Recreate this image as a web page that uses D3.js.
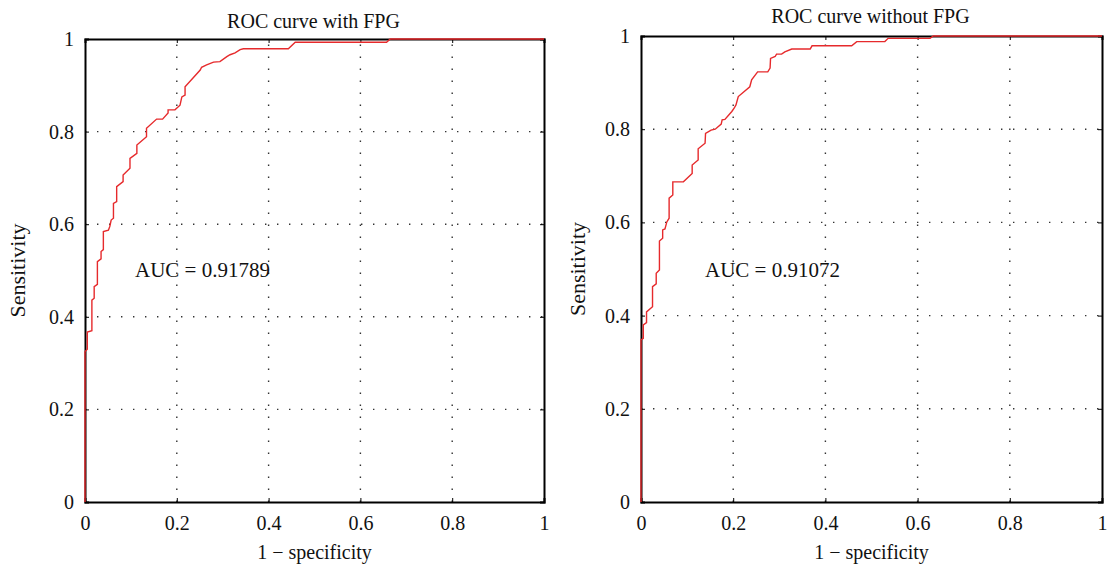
<!DOCTYPE html>
<html>
<head>
<meta charset="utf-8">
<title>ROC curves with and without FPG</title>
<script src="https://d3js.org/d3.v7.min.js"></script>
<style>
  body { margin: 0; background: #fff; }
  text { font-family: "Liberation Serif", "DejaVu Serif", serif; fill: #111; }
</style>
</head>
<body>
<div id="chart"></div>
<script>
// ROC points (1 - specificity, sensitivity)
var fprWith = [0, 0, 0.005, 0.005, 0.015, 0.015, 0.02, 0.02, 0.027, 0.027, 0.035, 0.035, 0.04, 0.04,
  0.051, 0.054, 0.057, 0.062, 0.062, 0.069, 0.069, 0.083, 0.083, 0.098, 0.098, 0.113, 0.113,
  0.134, 0.134, 0.156, 0.169, 0.181, 0.181, 0.196, 0.207, 0.211, 0.218, 0.218, 0.251, 0.254,
  0.265, 0.280, 0.294, 0.309, 0.316, 0.327, 0.338, 0.345, 0.443, 0.458, 0.657, 0.665, 1];
var tprWith = [0, 0.325, 0.33, 0.367, 0.37, 0.436, 0.44, 0.465, 0.47, 0.519, 0.525, 0.541, 0.545, 0.584,
  0.587, 0.595, 0.609, 0.613, 0.645, 0.649, 0.681, 0.692, 0.706, 0.721, 0.742, 0.753, 0.771,
  0.789, 0.807, 0.827, 0.827, 0.840, 0.847, 0.847, 0.857, 0.875, 0.879, 0.897, 0.933, 0.939,
  0.944, 0.950, 0.951, 0.962, 0.966, 0.970, 0.977, 0.979, 0.979, 0.993, 0.993, 1, 1];

var fprWithout = [0, 0, 0.005, 0.005, 0.012, 0.012, 0.025, 0.025, 0.033, 0.033, 0.040, 0.040, 0.047, 0.047,
  0.052, 0.056, 0.061, 0.061, 0.069, 0.069, 0.092, 0.111, 0.111, 0.124, 0.124, 0.139, 0.140,
  0.152, 0.161, 0.174, 0.176, 0.182, 0.197, 0.202, 0.206, 0.211, 0.236, 0.240, 0.253, 0.275,
  0.280, 0.281, 0.291, 0.294, 0.305, 0.312, 0.327, 0.367, 0.371, 0.457, 0.468, 0.529, 0.536,
  0.627, 0.634, 1];
var tprWithout = [0, 0.348, 0.351, 0.380, 0.385, 0.408, 0.419, 0.462, 0.468, 0.491, 0.498, 0.560, 0.566, 0.584,
  0.586, 0.601, 0.609, 0.652, 0.659, 0.687, 0.687, 0.705, 0.723, 0.734, 0.758, 0.770, 0.791,
  0.798, 0.800, 0.811, 0.820, 0.821, 0.838, 0.845, 0.852, 0.870, 0.891, 0.906, 0.923, 0.923,
  0.931, 0.952, 0.956, 0.961, 0.961, 0.966, 0.972, 0.972, 0.979, 0.979, 0.988, 0.988, 0.995,
  0.995, 1, 1];

var ticks = [0, 0.2, 0.4, 0.6, 0.8, 1];
var gridTicks = [0.2, 0.4, 0.6, 0.8];

var panels = [
  { title: "ROC curve with FPG", auc: "AUC = 0.91789", fpr: fprWith, tpr: tprWith,
    left: 85, right: 544, top: 39, bottom: 502, titleY: 28, ylabX: 25, aucX: 135 },
  { title: "ROC curve without FPG", auc: "AUC = 0.91072", fpr: fprWithout, tpr: tprWithout,
    left: 641, right: 1102, top: 36, bottom: 502, titleY: 23, ylabX: 585, aucX: 705 }
];

var svg = d3.select("#chart").append("svg")
  .attr("width", 1110)
  .attr("height", 564);

panels.forEach(function(p) {
  var x = d3.scaleLinear().domain([0, 1]).range([p.left, p.right]);
  var y = d3.scaleLinear().domain([0, 1]).range([p.bottom, p.top]);
  var g = svg.append("g");

  // dotted grid
  g.selectAll(".gx").data(gridTicks).enter().append("line")
    .attr("x1", function(d) { return x(d); }).attr("x2", function(d) { return x(d); })
    .attr("y1", p.bottom).attr("y2", p.top)
    .attr("stroke", "#333").attr("stroke-width", 1.4)
    .attr("stroke-dasharray", "1.4,10.6");
  g.selectAll(".gy").data(gridTicks).enter().append("line")
    .attr("y1", function(d) { return y(d); }).attr("y2", function(d) { return y(d); })
    .attr("x1", p.left).attr("x2", p.right)
    .attr("stroke", "#333").attr("stroke-width", 1.4)
    .attr("stroke-dasharray", "1.4,10.6");

  // axes with inward ticks on all four sides
  var ax = [
    g.append("g").attr("transform", "translate(0," + p.bottom + ")")
      .call(d3.axisBottom(x).tickValues(ticks).tickSize(-4).tickPadding(14).tickFormat(d3.format("~g"))),
    g.append("g").attr("transform", "translate(0," + p.top + ")")
      .call(d3.axisTop(x).tickValues(ticks).tickSize(-4).tickFormat("")),
    g.append("g").attr("transform", "translate(" + p.left + ",0)")
      .call(d3.axisLeft(y).tickValues(ticks).tickSize(-4).tickPadding(11).tickFormat(d3.format("~g"))),
    g.append("g").attr("transform", "translate(" + p.right + ",0)")
      .call(d3.axisRight(y).tickValues(ticks).tickSize(-4).tickFormat(""))
  ];
  ax.forEach(function(a) {
    a.attr("font-size", 20).attr("font-family", "'Liberation Serif', 'DejaVu Serif', serif");
  });

  g.selectAll(".domain").attr("stroke", "#000").attr("stroke-width", 2);
  g.selectAll(".tick line").attr("stroke", "#000").attr("stroke-width", 1);
  g.selectAll(".tick text").attr("fill", "#111");

  // ROC curve
  var pts = p.fpr.map(function(f, i) { return [f, p.tpr[i]]; });
  g.append("path")
    .datum(pts)
    .attr("fill", "none")
    .attr("stroke", "#e62a2c")
    .attr("stroke-width", 1.4)
    .attr("d", d3.line().x(function(d) { return x(d[0]); }).y(function(d) { return y(d[1]); }));

  // texts
  g.append("text")
    .attr("x", (p.left + p.right) / 2 - 1).attr("y", p.titleY)
    .attr("text-anchor", "middle").style("font-size", "20px")
    .text(p.title);
  g.append("text")
    .attr("x", (p.left + p.right) / 2).attr("y", 559)
    .attr("text-anchor", "middle").style("font-size", "20px")
    .text("1 \u2212 specificity");
  g.append("text")
    .attr("transform", "translate(" + p.ylabX + "," + ((p.top + p.bottom) / 2) + ") rotate(-90)")
    .attr("text-anchor", "middle").style("font-size", "22px")
    .text("Sensitivity");
  g.append("text")
    .attr("x", p.aucX).attr("y", 277)
    .style("font-size", "21px")
    .text(p.auc);
});
</script>
</body>
</html>
